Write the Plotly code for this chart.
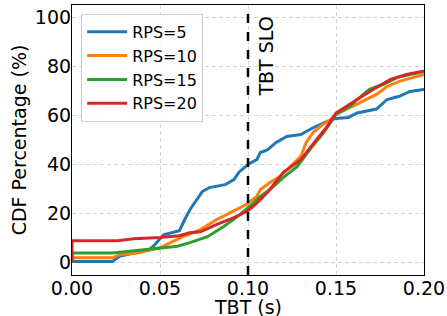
import plotly.graph_objects as go

# TBT (s) and CDF (%) per RPS
x_rps5 = [0.0, 0.0, 0.023, 0.027, 0.044, 0.047, 0.052, 0.056, 0.061, 0.064, 0.067, 0.074, 0.078, 0.087, 0.092,
          0.095, 0.100, 0.105, 0.107, 0.111, 0.116, 0.122, 0.130, 0.137, 0.145, 0.150, 0.157, 0.162,
          0.168, 0.173, 0.179, 0.186, 0.192, 0.200, 0.21]
y_rps5 = [0.0, 0.5, 0.5, 2.6, 5.3, 7.3, 11.4, 12.2, 13.0, 17.5, 21.6, 29.0, 30.6, 31.8, 33.9,
          37.0, 40.0, 42.0, 44.9, 46.0, 49.0, 51.4, 52.2, 55.0, 57.6, 58.8, 59.2, 61.0,
          62.0, 62.6, 66.5, 67.8, 69.8, 70.6, 71.0]

x_rps10 = [0.0, 0.0, 0.023, 0.027, 0.037, 0.050, 0.056, 0.063, 0.073, 0.082, 0.090, 0.099, 0.105,
           0.107, 0.1125, 0.118, 0.124, 0.130, 0.133, 0.137, 0.141, 0.147, 0.150, 0.158, 0.162,
           0.167, 0.173, 0.179, 0.186, 0.194, 0.200, 0.21]
y_rps10 = [0.0, 2.0, 2.0, 3.3, 4.0, 6.1, 8.2, 10.6, 13.5, 17.5, 20.4, 23.7, 27.0,
           29.8, 32.7, 35.0, 39.2, 43.3, 49.0, 53.0, 55.5, 58.4, 60.4, 63.3, 64.5,
           66.5, 68.6, 71.8, 73.9, 75.5, 76.7, 78.0]

x_rps15 = [0.0, 0.0, 0.023, 0.030, 0.037, 0.050, 0.056, 0.060, 0.067, 0.077, 0.086, 0.094, 0.101,
           0.107, 0.1125, 0.120, 0.128, 0.135, 0.143, 0.150, 0.158, 0.162, 0.169, 0.177,
           0.185, 0.192, 0.200, 0.21]
y_rps15 = [0.0, 4.0, 4.0, 4.5, 5.3, 6.1, 6.5, 6.7, 8.2, 10.6, 14.7, 18.8, 23.0,
           27.0, 29.8, 34.7, 39.2, 46.0, 53.0, 60.4, 63.7, 66.5, 70.6, 72.7,
           75.5, 76.7, 78.0, 79.5]

x_rps20 = [0.0, 0.0, 0.026, 0.035, 0.050, 0.061, 0.067, 0.073, 0.082, 0.092, 0.099, 0.103, 0.107,
           0.111, 0.120, 0.130, 0.139, 0.145, 0.150, 0.158, 0.162, 0.171, 0.181, 0.190, 0.200, 0.21]
y_rps20 = [0.0, 9.0, 9.0, 9.8, 10.3, 11.0, 12.2, 12.6, 15.5, 18.4, 20.8, 23.0, 25.7,
           28.6, 36.7, 42.0, 50.2, 55.5, 61.0, 64.5, 66.5, 70.6, 74.7, 76.7, 78.0, 79.5]

series = [
    ("RPS=5", x_rps5, y_rps5, "#1f77b4"),
    ("RPS=10", x_rps10, y_rps10, "#ff7f0e"),
    ("RPS=15", x_rps15, y_rps15, "#2ca02c"),
    ("RPS=20", x_rps20, y_rps20, "#d62728"),
]

x_ticks = [0.0, 0.05, 0.10, 0.15, 0.20]
x_tick_labels = ["0.00", "0.05", "0.10", "0.15", "0.20"]
y_ticks = [0, 20, 40, 60, 80, 100]
slo_x = 0.1
x_title = "TBT (s)"
y_title = "CDF Percentage (%)"

FONT = "DejaVu Sans"

fig = go.Figure()
for name, xs, ys, c in series:
    fig.add_trace(go.Scatter(x=xs, y=ys, mode="lines", name=name,
                             line=dict(color=c, width=3)))

fig.add_vline(x=slo_x, line=dict(color="black", width=2.5, dash="dash"))
fig.add_annotation(x=0.1097, y=84, text="TBT SLO", textangle=-90, showarrow=False,
                   font=dict(family=FONT, size=19, color="black"))
# x-axis title (placed as paper annotation so it can sit just below the tick labels)
fig.add_annotation(x=0.5, y=0, xref="paper", yref="paper", yanchor="top", yshift=-19,
                   text=x_title, showarrow=False,
                   font=dict(family=FONT, size=19, color="black"))

axis_common = dict(
    showline=True, linecolor="black", linewidth=1.2, mirror=True,
    ticks="", ticklabelstandoff=-4,
    showgrid=True, gridcolor="#d4d4d4", griddash="4px,3px", gridwidth=1,
    zeroline=False, automargin=False,
    tickfont=dict(family=FONT, size=19, color="black"),
)

fig.update_layout(
    width=447, height=316,
    margin=dict(l=72, r=23, t=5, b=41),
    plot_bgcolor="white", paper_bgcolor="white",
    font=dict(family=FONT, color="black"),
    xaxis=dict(range=[0, 0.2], tickvals=x_ticks, ticktext=x_tick_labels, **axis_common),
    yaxis=dict(range=[-5, 105], tickvals=y_ticks,
               title=dict(text=y_title, font=dict(family=FONT, size=19), standoff=3),
               **axis_common),
    legend=dict(x=0.026, y=0.967, xanchor="left", yanchor="top",
                bgcolor="rgba(255,255,255,0.85)", bordercolor="#cccccc", borderwidth=1,
                font=dict(family=FONT, size=16), tracegroupgap=0, itemwidth=40),
    showlegend=True,
)

fig.write_html("out.html", config={"displayModeBar": False},
               post_script="document.body.style.margin='0';document.body.style.overflow='hidden';")
